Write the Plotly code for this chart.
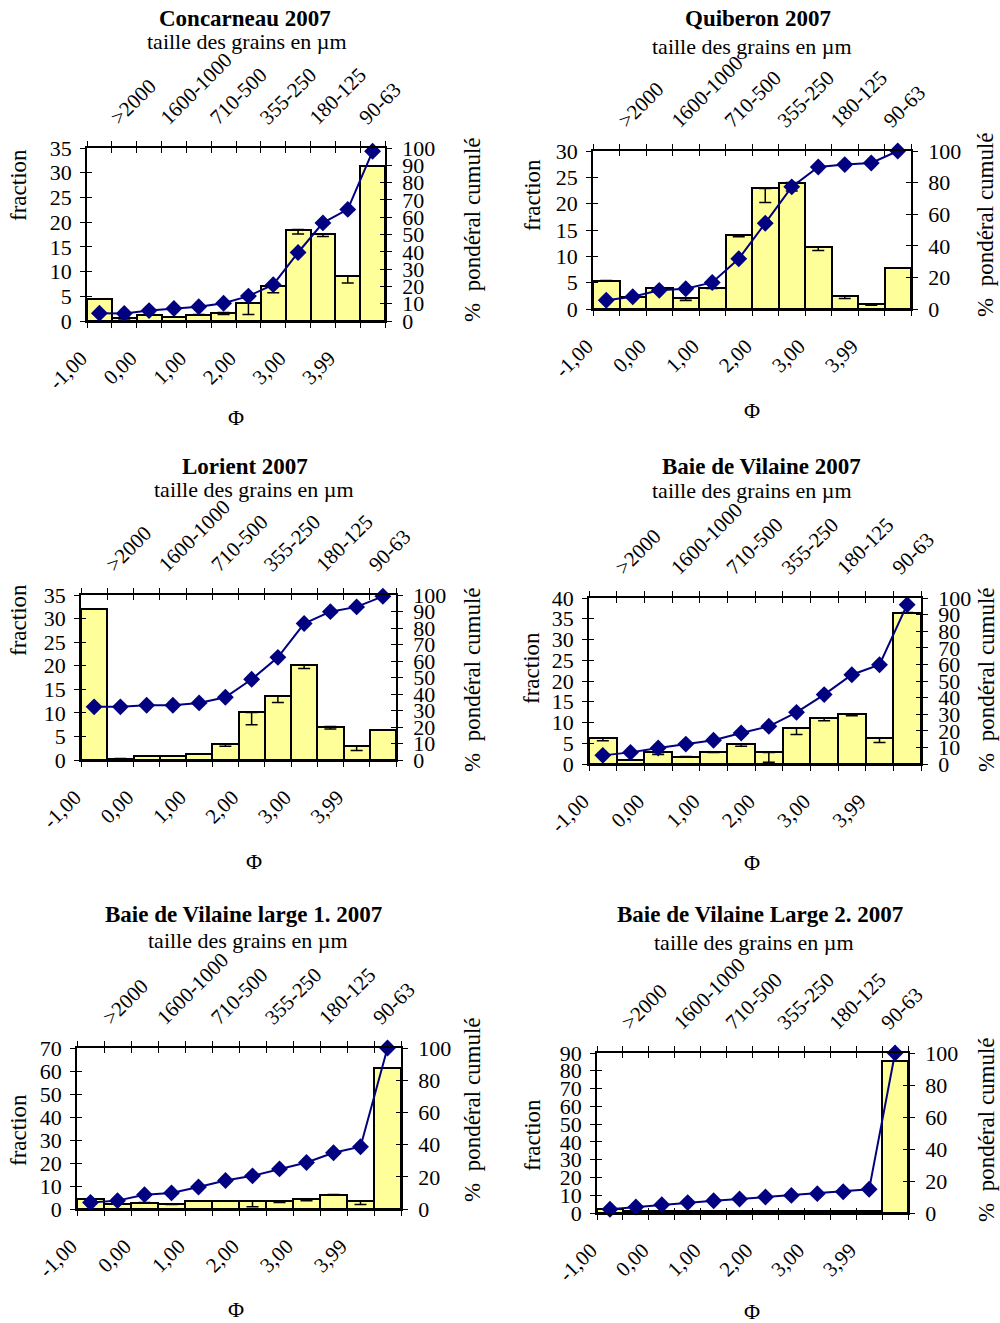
import plotly.graph_objects as go

W, H = 1000, 1323
FONT = "Liberation Serif"

titles = ["Concarneau 2007", "Quiberon 2007", "Lorient 2007", "Baie de Vilaine 2007",
          "Baie de Vilaine large 1. 2007", "Baie de Vilaine Large 2. 2007"]
subtitle = "taille des grains en µm"
phi_labels = ["-1,00", "0,00", "1,00", "2,00", "3,00", "3,99"]
size_labels = [">2000", "1600-1000", "710-500", "355-250", "180-125", "90-63"]

frac_conc = [4.4, 0.7, 1.3, 0.8, 1.3, 1.7, 3.7, 7.0, 18.5, 17.6, 9.1, 31.4]
err_conc = [0, 0.3, 0, 0, 0, 0.4, 2.4, 1.3, 0.9, 0.5, 1.4, 0]
cum_conc = [4.5, 4.3, 6.0, 7.2, 8.2, 10.3, 14.4, 21.0, 39.6, 56.7, 64.5, 98.1]

frac_quib = [5.4, 2.3, 3.9, 2.0, 3.9, 14.1, 22.9, 24.0, 11.8, 2.4, 0.9, 7.8]
err_quib = [0.1, 0.2, 0.1, 0.4, 0, 0.4, 2.7, 1.6, 0.7, 0.4, 0.2, 0]
cum_quib = [5.5, 7.8, 11.8, 12.8, 16.8, 31.8, 54.3, 77.3, 89.9, 91.4, 92.4, 100]

frac_lor = [32.0, 0.3, 0.8, 0.8, 1.3, 3.4, 10.1, 13.5, 20.2, 7.1, 3.0, 6.3]
err_lor = [0, 0, 0, 0, 0, 0.5, 2.6, 1.3, 0.8, 0.5, 1.0, 0]
cum_lor = [32.2, 32.2, 33.2, 33.2, 34.6, 38.0, 48.9, 62.2, 82.7, 89.9, 92.8, 99.2]

frac_vil = [6.2, 1.0, 2.8, 1.8, 2.8, 4.8, 2.8, 8.6, 11.0, 12.0, 6.2, 36.5]
err_vil = [0.6, 0, 0.5, 0, 0, 0.5, 2.4, 1.5, 0.6, 0.4, 1.0, 0]
cum_vil = [5.2, 7.0, 9.6, 12.0, 14.3, 18.7, 22.7, 31.1, 41.8, 53.8, 59.8, 96.0]

frac_l1 = [4.4, 2.3, 2.8, 2.0, 3.5, 3.5, 3.5, 3.5, 4.5, 6.3, 3.6, 61.3]
err_l1 = [0.8, 0, 0, 0, 0, 0, 2.5, 0.7, 0.9, 0, 1.6, 0]
cum_l1 = [4.0, 5.2, 8.9, 10.0, 13.7, 17.7, 20.6, 24.9, 28.9, 34.9, 38.7, 100]

frac_l2 = [2.3, 1.2, 1.2, 1.2, 1.2, 1.2, 1.2, 1.2, 1.2, 1.2, 1.2, 85.5]
err_l2 = [0, 0, 0, 0, 0, 0, 0, 0, 0, 0, 0, 0]
cum_l2 = [2.3, 3.75, 5.2, 6.5, 7.7, 8.75, 10.0, 11.0, 12.1, 13.3, 14.8, 100]

fracs = [frac_conc, frac_quib, frac_lor, frac_vil, frac_l1, frac_l2]
errs = [err_conc, err_quib, err_lor, err_vil, err_l1, err_l2]
cums = [cum_conc, cum_quib, cum_lor, cum_vil, cum_l1, cum_l2]

left_max = [35, 30, 35, 40, 70, 90]
left_dtick = [5, 5, 5, 5, 10, 10]
right_dtick = [10, 20, 10, 10, 20, 20]

# layout geometry in pixels: (x0, x1, ytop, ybottom)
boxes = [(87, 385, 148, 321), (593, 911, 151, 309),
         (81, 396, 595, 760), (589, 921, 598, 764),
         (77, 401, 1048, 1209), (597, 908, 1053, 1213)]
title_pos = [(245, 19), (758, 19), (245, 466), (761, 466), (243, 914), (760, 914)]
sub_pos = [(247, 41), (752, 47), (254, 489), (752, 490), (248, 940), (754, 942)]
phi_pos = [(236, 417), (752, 411), (254, 861), (752, 862), (236, 1309), (752, 1311)]
frac_pos = [(18, 185), (532, 195), (18, 620), (532, 668), (18, 1130), (532, 1135)]
cum_pos = [(473, 230), (986, 225), (472, 680), (986, 680), (472, 1110), (986, 1130)]

px = lambda x: x / W
py = lambda y: 1 - y / H

fig = go.Figure()
layout = {}
annotations = []

centers = [i + 0.5 for i in range(12)]
bottom_text = []
top_text = []
for k in range(13):
    bottom_text.append(phi_labels[k // 2] if k % 2 == 0 and k // 2 < len(phi_labels) else "")
    top_text.append(size_labels[k // 2] if k % 2 == 1 and k // 2 < len(size_labels) else "")

tickfont = dict(family=FONT, size=22, color="black")
rotfont = dict(family=FONT, size=21, color="black")


def axname(prefix, n):
    return f"{prefix}axis" if n == 1 else f"{prefix}axis{n}"


def ref(prefix, n):
    return prefix if n == 1 else f"{prefix}{n}"


for i in range(6):
    x0, x1, yt, yb = boxes[i]
    xb, xt = 2 * i + 1, 2 * i + 2
    yl, yli, yr, yri = 4 * i + 1, 4 * i + 2, 4 * i + 3, 4 * i + 4
    xdom = [px(x0), px(x1)]
    ydom = [py(yb), py(yt)]

    common_x = dict(range=[0, 12], tickmode="array", tickvals=list(range(13)),
                    showgrid=False, zeroline=False, showline=True, linecolor="black",
                    linewidth=1.5, tickcolor="black", tickwidth=1.2, ticklen=5,
                    tickangle=-45, tickfont=rotfont, mirror="allticks", automargin=False)
    layout[axname("x", xb)] = dict(common_x, domain=xdom, anchor=ref("y", yl),
                                   ticktext=bottom_text, ticks="outside", side="bottom",
                                   ticklabelstandoff=10, ticklabelshift=-6)
    layout[axname("x", xt)] = dict(common_x, overlaying=ref("x", xb), anchor=ref("y", yr),
                                   ticktext=top_text, ticks="inside", side="top",
                                   ticklabelstandoff=9)

    common_y = dict(showgrid=False, zeroline=False, tickcolor="black", tickwidth=1.2,
                    ticklen=5, tickfont=tickfont, linecolor="black", linewidth=1.5,
                    automargin=False)
    layout[axname("y", yl)] = dict(common_y, domain=ydom, anchor=ref("x", xb),
                                   range=[0, left_max[i]], dtick=left_dtick[i], tick0=0,
                                   ticks="outside", showline=True, side="left",
                                   ticklabelstandoff=4)
    layout[axname("y", yli)] = dict(common_y, overlaying=ref("y", yl), anchor=ref("x", xb),
                                    range=[0, left_max[i]], dtick=left_dtick[i], tick0=0,
                                    ticks="inside", showline=False, showticklabels=False,
                                    side="left")
    layout[axname("y", yr)] = dict(common_y, overlaying=ref("y", yl), anchor=ref("x", xt),
                                   range=[0, 100], dtick=right_dtick[i], tick0=0,
                                   ticks="outside", showline=True, side="right",
                                   ticklabelstandoff=6)
    layout[axname("y", yri)] = dict(common_y, overlaying=ref("y", yl), anchor=ref("x", xt),
                                    range=[0, 100], dtick=right_dtick[i], tick0=0,
                                    ticks="inside", showline=False, showticklabels=False,
                                    side="right")

    fig.add_trace(go.Bar(
        x=centers, y=fracs[i], width=1.0,
        xaxis=ref("x", xb), yaxis=ref("y", yl),
        marker=dict(color="#FFFF99", line=dict(color="black", width=2)),
        error_y=dict(type="data", symmetric=False, array=[0] * 12, arrayminus=errs[i],
                     color="black", thickness=1.5, width=6),
        showlegend=False, hoverinfo="skip"))
    fig.add_trace(go.Scatter(x=[None], y=[None], xaxis=ref("x", xb), yaxis=ref("y", yli),
                             showlegend=False, hoverinfo="skip"))
    fig.add_trace(go.Scatter(x=[None], y=[None], xaxis=ref("x", xt), yaxis=ref("y", yri),
                             showlegend=False, hoverinfo="skip"))
    fig.add_trace(go.Scatter(
        x=centers, y=cums[i], xaxis=ref("x", xt), yaxis=ref("y", yr),
        mode="lines+markers", line=dict(color="#000080", width=2),
        marker=dict(symbol="diamond", size=13, color="#000080"),
        showlegend=False, hoverinfo="skip", cliponaxis=False))

    big = dict(family=FONT, size=23, color="black")
    tx, ty = title_pos[i]
    annotations.append(dict(text=f"<b>{titles[i]}</b>", x=px(tx), y=py(ty), xref="paper",
                            yref="paper", showarrow=False, xanchor="center", yanchor="middle",
                            font=big))
    sx, sy = sub_pos[i]
    annotations.append(dict(text=subtitle, x=px(sx), y=py(sy), xref="paper", yref="paper",
                            showarrow=False, xanchor="center", yanchor="middle",
                            font=dict(family=FONT, size=22, color="black")))
    fx, fy = phi_pos[i]
    annotations.append(dict(text="Φ", x=px(fx), y=py(fy), xref="paper", yref="paper",
                            showarrow=False, xanchor="center", yanchor="middle",
                            font=dict(family=FONT, size=22, color="black")))
    ax_, ay_ = frac_pos[i]
    annotations.append(dict(text="fraction", x=px(ax_), y=py(ay_), xref="paper", yref="paper",
                            showarrow=False, xanchor="center", yanchor="middle", textangle=-90,
                            font=dict(family=FONT, size=23, color="black")))
    cx, cy = cum_pos[i]
    annotations.append(dict(text="%  pondéral cumulé", x=px(cx), y=py(cy), xref="paper",
                            yref="paper", showarrow=False, xanchor="center", yanchor="middle",
                            textangle=-90, font=big))

fig.update_layout(**layout)
fig.update_layout(width=W, height=H, margin=dict(l=0, r=0, t=0, b=0, autoexpand=False),
                  paper_bgcolor="white", plot_bgcolor="white", bargap=0,
                  showlegend=False, annotations=annotations,
                  font=dict(family=FONT, size=20, color="black"))

fig.write_html("out.html")
